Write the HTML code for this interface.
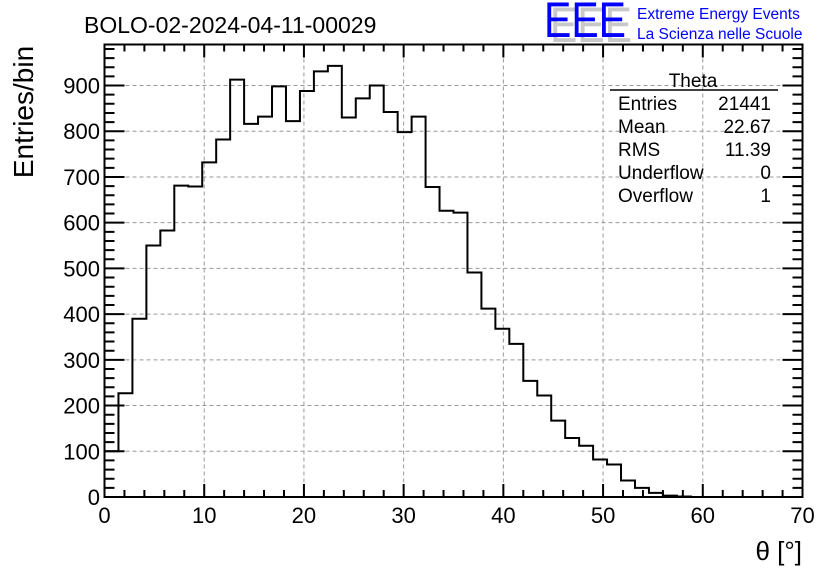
<!DOCTYPE html>
<html><head><meta charset="utf-8"><style>
html,body{margin:0;padding:0;background:#fff}
svg{display:block;font-family:"Liberation Sans",sans-serif}
</style></head><body>
<svg id="c" width="836" height="572" viewBox="0 0 836 572" xmlns="http://www.w3.org/2000/svg">
<rect width="836" height="572" fill="#fff"/>
<g id="grid"></g>
<path id="hist" fill="none" stroke="#000" stroke-width="2"/>
<rect x="104.5" y="44.5" width="698" height="452.5" fill="none" stroke="#000" stroke-width="2"/>
<g id="ticks"></g>
<g id="labels" font-size="22"></g>
<text x="84" y="33" font-size="23">BOLO-02-2024-04-11-00029</text>
<text transform="translate(33,112) rotate(-90)" text-anchor="middle" font-size="28">Entries/bin</text>
<text x="802" y="560" text-anchor="end" font-size="26">θ [°]</text>
<g>
<text x="550" y="42" font-size="50" fill="#c8c8c8" textLength="82" lengthAdjust="spacingAndGlyphs">EEE</text>
<text x="544" y="37" font-size="50" fill="#0000ff" textLength="82" lengthAdjust="spacingAndGlyphs">EEE</text>
<text x="637" y="19" font-size="15.5" fill="#0000ff">Extreme Energy Events</text>
<text x="637" y="39" font-size="15.5" fill="#0000ff">La Scienza nelle Scuole</text>
</g>
<g font-size="19">
<text x="693" y="87" text-anchor="middle">Theta</text>
<line x1="610" y1="90" x2="778" y2="90" stroke="#000" stroke-width="1.5"/>
<text x="618" y="110">Entries</text><text x="771" y="110" text-anchor="end">21441</text>
<text x="618" y="133">Mean</text><text x="771" y="133" text-anchor="end">22.67</text>
<text x="618" y="156">RMS</text><text x="771" y="156" text-anchor="end">11.39</text>
<text x="618" y="179">Underflow</text><text x="771" y="179" text-anchor="end">0</text>
<text x="618" y="202">Overflow</text><text x="771" y="202" text-anchor="end">1</text>
</g>
</svg>
<script>
const binWidth = 1.4;
const counts = [100,227,390,550,583,681,679,732,782,913,816,832,898,822,888,931,943,830,872,900,842,798,832,678,626,622,491,412,368,335,254,222,167,129,112,82,71,36,20,9,3,1,0,0,0,0,0,0,0,0];
const xTicks = [0,10,20,30,40,50,60,70];
const yTicks = [0,100,200,300,400,500,600,700,800,900];
const X0=104.5, X1=802.5, Y0=497, YT=44.5;
const xs = v => X0 + (v/70)*(X1-X0);
const ys = v => Y0 - v*0.4572;
const NS="http://www.w3.org/2000/svg";
function mk(tag, attrs, parent){const e=document.createElementNS(NS,tag);for(const k in attrs)e.setAttribute(k,attrs[k]);parent.appendChild(e);return e;}
const grid=document.getElementById('grid'), ticks=document.getElementById('ticks'), labels=document.getElementById('labels');
xTicks.forEach(t=>{
  if(t>0&&t<70){const l=mk('line',{x1:xs(t),x2:xs(t),y1:YT,y2:Y0,stroke:'#999','stroke-dasharray':'4 3','stroke-width':1},grid);
  
  }
  const tx=mk('text',{x:xs(t),y:523,'text-anchor':'middle'},labels);
  
  
  tx.textContent=t;
});
yTicks.forEach(t=>{
  if(t>0){const l=mk('line',{x1:X0,x2:X1,y1:ys(t),y2:ys(t),stroke:'#999','stroke-dasharray':'4 3','stroke-width':1},grid);
  
  }
  const tx=mk('text',{x:100,y:ys(t)+8,'text-anchor':'end'},labels);
  
  
  tx.textContent=t;
});
let d='';
for(let v=0;v<=70;v+=2){const L=(v%10===0)?13:7;
  d+=`M${xs(v)},${Y0}v${-L}M${xs(v)},${YT}v${L}`;}
for(let v=0;v<=1000;v+=20){const y=ys(v); if(y<YT) break; const L=(v%100===0)?20:10;
  d+=`M${X0},${y}h${L}M${X1},${y}h${-L}`;}
mk('path',{d:d,stroke:'#000','stroke-width':2,fill:'none'},ticks);
let p=`M${xs(0)},${ys(0)}`;
counts.forEach((c,i)=>{p+=`L${xs(i*binWidth)},${ys(c)}L${xs((i+1)*binWidth)},${ys(c)}`;});
document.getElementById('hist').setAttribute('d',p);
</script>
</body></html>
